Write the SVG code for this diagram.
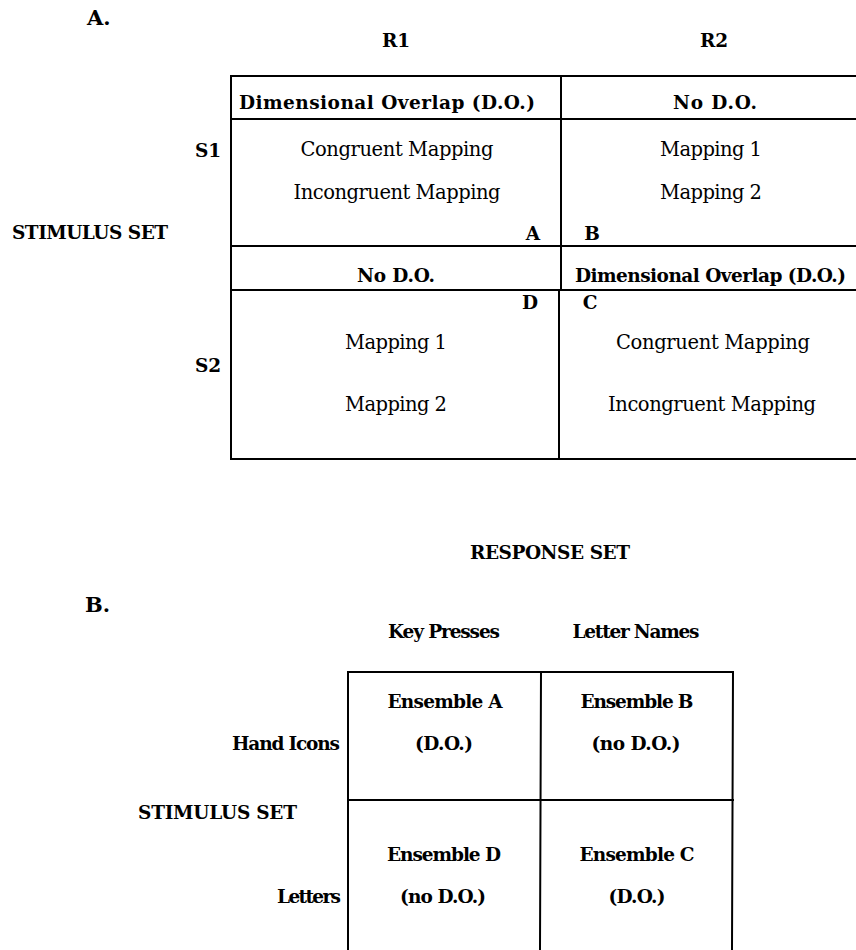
<svg xmlns="http://www.w3.org/2000/svg" width="856" height="950" viewBox="0 0 856 950">
<style>
  text { font-family: "DejaVu Serif", "Liberation Serif", serif; fill: #000; }
  .b { font-weight: bold; font-size: 18.5px; }
  .r { font-size: 19.5px; }
  .big { font-size: 21px; }
  .m { text-anchor: middle; }
  .e { text-anchor: end; }
  line { stroke: #000; stroke-width: 2; stroke-linecap: square; }
</style>
<rect width="856" height="950" fill="#fff"/>

<!-- Panel A -->
<g id="panelA-labels">
  <text class="b big" x="87" y="25">A.</text>
  <text class="b m" x="396" y="47">R1</text>
  <text class="b m" x="714" y="47">R2</text>
  <text class="b m" x="208" y="157">S1</text>
  <text class="b m" x="208" y="372">S2</text>
  <text class="b" x="12" y="239" textLength="156">STIMULUS SET</text>
  <text class="b m" x="550" y="559" textLength="160">RESPONSE SET</text>
</g>

<g id="connectors">
  <line x1="231" y1="76" x2="856" y2="76"/>
  <line x1="231" y1="119" x2="856" y2="119"/>
  <line x1="231" y1="246" x2="856" y2="246"/>
  <line x1="231" y1="290" x2="856" y2="290"/>
  <line x1="231" y1="459" x2="856" y2="459"/>
  <line x1="231" y1="76" x2="231" y2="459"/>
  <line x1="561" y1="76" x2="561" y2="290"/>
  <line x1="559" y1="290" x2="559" y2="459"/>

  <line x1="348" y1="672" x2="733" y2="672"/>
  <line x1="348" y1="800" x2="733" y2="800"/>
  <line x1="348" y1="672" x2="348" y2="950"/>
  <line x1="541" y1="672" x2="540" y2="950"/>
  <line x1="733" y1="672" x2="732" y2="950"/>
</g>

<g id="cellA">
  <text class="b m" x="387" y="109" textLength="296">Dimensional Overlap (D.O.)</text>
  <text class="r m" x="397" y="156" textLength="193">Congruent Mapping</text>
  <text class="r m" x="397" y="199" textLength="207">Incongruent Mapping</text>
  <text class="b m" x="533" y="240">A</text>
</g>
<g id="cellB">
  <text class="b m" x="715" y="109" textLength="84">No D.O.</text>
  <text class="r m" x="711" y="156" textLength="102">Mapping 1</text>
  <text class="r m" x="711" y="199" textLength="102">Mapping 2</text>
  <text class="b m" x="592" y="240">B</text>
</g>
<g id="cellD">
  <text class="b m" x="396" y="282" textLength="78">No D.O.</text>
  <text class="b m" x="530" y="309">D</text>
  <text class="r m" x="396" y="349" textLength="102">Mapping 1</text>
  <text class="r m" x="396" y="411" textLength="102">Mapping 2</text>
</g>
<g id="cellC">
  <text class="b m" x="710.5" y="282" textLength="271">Dimensional Overlap (D.O.)</text>
  <text class="b m" x="590" y="309">C</text>
  <text class="r m" x="713" y="349" textLength="194">Congruent Mapping</text>
  <text class="r m" x="712" y="411" textLength="208">Incongruent Mapping</text>
</g>

<!-- Panel B -->
<g id="panelB-labels">
  <text class="b big" x="85" y="612">B.</text>
  <text class="b m" x="444" y="638" textLength="112">Key Presses</text>
  <text class="b m" x="636" y="638" textLength="127">Letter Names</text>
  <text class="b e" x="340" y="750" textLength="108">Hand Icons</text>
  <text class="b" x="138" y="819" textLength="159">STIMULUS SET</text>
  <text class="b e" x="341" y="903" textLength="64">Letters</text>
</g>
<g id="ensembleA">
  <text class="b m" x="445" y="708" textLength="115">Ensemble A</text>
  <text class="b m" x="444" y="750" textLength="58">(D.O.)</text>
</g>
<g id="ensembleB">
  <text class="b m" x="637" y="708" textLength="113">Ensemble B</text>
  <text class="b m" x="636" y="750" textLength="89">(no D.O.)</text>
</g>
<g id="ensembleD">
  <text class="b m" x="444" y="861" textLength="114">Ensemble D</text>
  <text class="b m" x="443" y="903" textLength="86">(no D.O.)</text>
</g>
<g id="ensembleC">
  <text class="b m" x="637" y="861" textLength="115">Ensemble C</text>
  <text class="b m" x="637" y="903" textLength="57">(D.O.)</text>
</g>
</svg>
